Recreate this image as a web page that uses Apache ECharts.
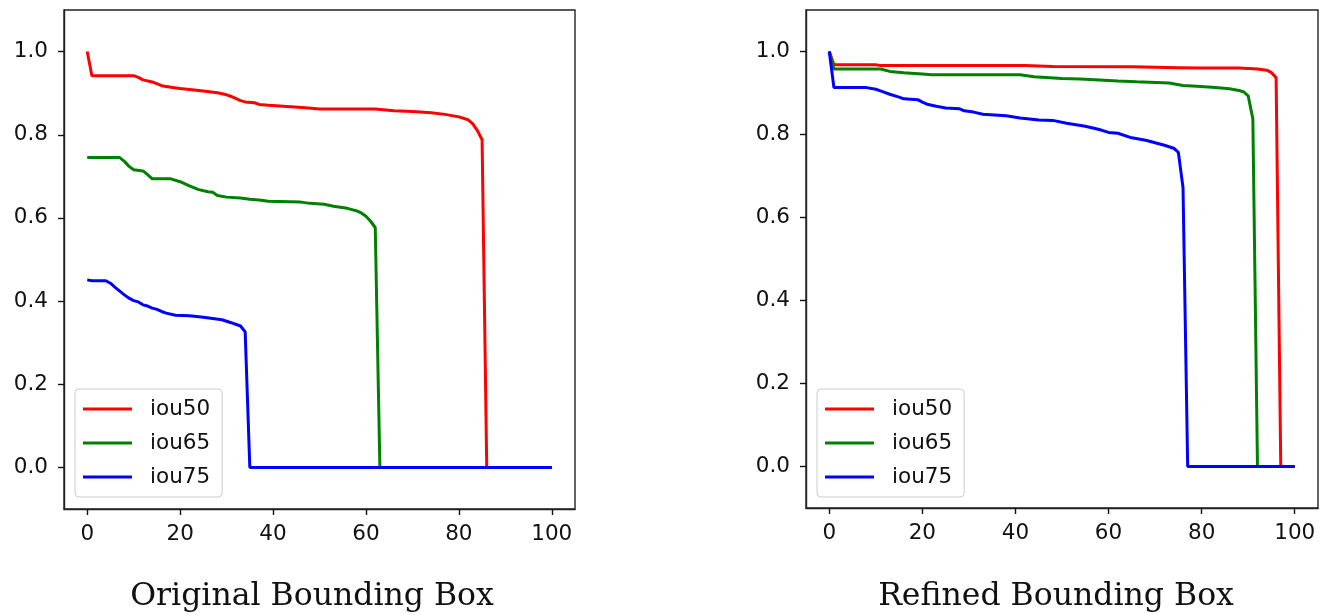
<!DOCTYPE html>
<html>
<head>
<meta charset="utf-8">
<title>IoU curves</title>
<script src="https://cdn.jsdelivr.net/npm/echarts@6/dist/echarts.min.js"></script>
<style>
  html, body { margin: 0; padding: 0; background: #fff; }
  #chart { width: 1331px; height: 615px; }
</style>
</head>
<body>
<div id="chart"></div>
<script>
// tick labels
const xTicks = [0, 20, 40, 60, 80, 100]
const yTicks = [0, 0.2, 0.4, 0.6, 0.8, 1.0]
const seriesNames = ['iou50', 'iou65', 'iou75']
const panelTitles = ['Original Bounding Box', 'Refined Bounding Box']

// original bounding box
const origIou50 = [[0,1.0],[1,0.942],[10,0.942],[11,0.938],[12,0.932],[14,0.927],[16,0.918],[18,0.914],[20,0.911],[22,0.909],[25,0.905],[28,0.901],[30,0.896],[31,0.892],[33,0.882],[34,0.879],[36,0.877],[37,0.873],[39,0.871],[43,0.868],[47,0.865],[50,0.862],[62,0.862],[66,0.858],[70,0.856],[74,0.853],[77,0.849],[80,0.843],[82,0.836],[83,0.826],[84,0.810],[85,0.788],[86,0],[100,0]]
const origIou65 = [[0,0.745],[7,0.745],[8,0.736],[9,0.724],[10,0.716],[12,0.713],[13,0.704],[14,0.694],[18,0.694],[20,0.687],[22,0.677],[24,0.668],[26,0.663],[27,0.662],[28,0.654],[30,0.650],[33,0.648],[35,0.645],[37,0.643],[39,0.640],[46,0.638],[48,0.635],[51,0.633],[53,0.628],[56,0.623],[58,0.617],[59,0.612],[60,0.604],[61,0.592],[62,0.577],[63,0],[100,0]]
const origIou75 = [[0,0.451],[1,0.449],[4,0.449],[5,0.443],[6,0.433],[7,0.424],[8,0.415],[9,0.407],[10,0.401],[11,0.398],[12,0.391],[13,0.388],[14,0.383],[15,0.380],[16,0.375],[17,0.371],[19,0.366],[22,0.365],[25,0.361],[27,0.358],[29,0.355],[31,0.348],[33,0.340],[34,0.326],[35,0],[100,0]]

// refined bounding box
const refIou50 = [[0,1.0],[1,0.968],[10,0.968],[11,0.966],[42,0.966],[48,0.964],[65,0.963],[75,0.961],[80,0.960],[88,0.960],[92,0.958],[94,0.955],[95,0.949],[96,0.937],[97,0],[100,0]]
const refIou65 = [[0,1.0],[1,0.958],[11,0.958],[13,0.952],[16,0.949],[20,0.946],[22,0.944],[41,0.944],[44,0.939],[50,0.935],[54,0.934],[62,0.929],[66,0.927],[73,0.924],[76,0.918],[79,0.916],[83,0.913],[86,0.910],[88,0.906],[89,0.903],[90,0.893],[91,0.838],[92,0],[100,0]]
const refIou75 = [[0,1.0],[1,0.913],[8,0.913],[10,0.909],[11,0.905],[13,0.897],[15,0.890],[16,0.886],[19,0.884],[20,0.878],[21,0.873],[23,0.868],[25,0.864],[28,0.862],[29,0.857],[31,0.854],[33,0.849],[38,0.845],[41,0.840],[45,0.835],[48,0.834],[51,0.827],[55,0.820],[58,0.812],[60,0.805],[62,0.803],[65,0.792],[68,0.786],[70,0.780],[72,0.774],[74,0.767],[75,0.757],[76,0.672],[77,0],[100,0]]

const colors = ['#ff0000', '#008000', '#0000ff']
const tickFont = { fontFamily: 'DejaVu Sans', fontSize: 21.5, color: '#111' }
const frameColor = '#222'

// left edge of each plot frame
const panelLeft = [64, 806]

function makeX(i) {
    return {
        type: 'value', gridIndex: i, min: -5, max: 105,
        splitLine: { show: false },
        axisLine: { show: true, onZero: false, lineStyle: { color: frameColor, width: 1.4 } },
        axisTick: { show: true, length: 6, customValues: xTicks, lineStyle: { color: '#111', width: 1.4 } },
        axisLabel: { ...tickFont, margin: 14, customValues: xTicks }
    }
}

function makeY(i) {
    return {
        type: 'value', gridIndex: i, min: -0.1, max: 1.1,
        splitLine: { show: false },
        axisLine: { show: true, onZero: false, lineStyle: { color: frameColor, width: 1.4 } },
        axisTick: { show: true, length: 6, customValues: yTicks, lineStyle: { color: '#111', width: 1.4 } },
        axisLabel: { ...tickFont, margin: 16, customValues: yTicks, formatter: v => v.toFixed(1) }
    }
}

function makeLine(name, data, idx, panel) {
    return {
        name: name, type: 'line', data: data,
        xAxisIndex: panel, yAxisIndex: panel,
        showSymbol: false, symbol: 'none',
        lineStyle: { color: colors[idx], width: 3 },
        itemStyle: { color: colors[idx] },
        animation: false
    }
}

function makeLegend(i) {
    return {
        orient: 'vertical',
        left: panelLeft[i] + 11, top: 389,
        padding: [9, 12, 9, 8],
        icon: 'rect',
        itemWidth: 49, itemHeight: 3, itemGap: 12,
        backgroundColor: 'rgba(255,255,255,0.8)',
        borderColor: '#cccccc', borderWidth: 1, borderRadius: 4,
        textStyle: { ...tickFont, padding: [0, 0, 0, 13] },
        data: seriesNames
    }
}

let chart = echarts.init(document.getElementById('chart'))
chart.setOption({
    backgroundColor: '#fff',
    animation: false,
    title: panelTitles.map((t, i) => ({
        text: t,
        left: [307, 1051][i],
        top: 576,
        textAlign: 'center',
        textStyle: { fontFamily: 'DejaVu Serif', fontSize: 31.5, fontWeight: 'normal', color: '#111' }
    })),
    grid: [
        { left: panelLeft[0], top: 10, width: 511, height: 499, show: true, borderColor: frameColor, borderWidth: 1.4, backgroundColor: 'transparent' },
        { left: panelLeft[1], top: 10, width: 512, height: 498, show: true, borderColor: frameColor, borderWidth: 1.4, backgroundColor: 'transparent' }
    ],
    xAxis: [makeX(0), makeX(1)],
    yAxis: [makeY(0), makeY(1)],
    legend: [makeLegend(0), makeLegend(1)],
    series: [
        makeLine('iou50', origIou50, 0, 0),
        makeLine('iou65', origIou65, 1, 0),
        makeLine('iou75', origIou75, 2, 0),
        makeLine('iou50', refIou50, 0, 1),
        makeLine('iou65', refIou65, 1, 1),
        makeLine('iou75', refIou75, 2, 1)
    ]
})
</script>
</body>
</html>
